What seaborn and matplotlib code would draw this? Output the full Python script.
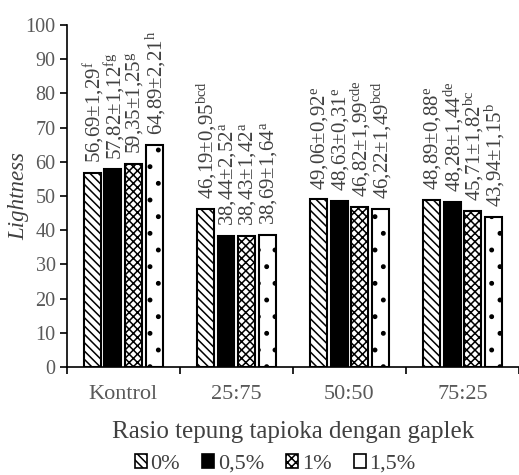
import matplotlib
matplotlib.use('Agg')
import matplotlib.pyplot as plt
import matplotlib.patches as mpatches
import seaborn as sns
import pandas as pd

# data
ratios = ['Kontrol', '25:75', '50:50', '75:25']
levels = ['0%', '0,5%', '1%', '1,5%']
mean_0 = [56.69, 46.19, 49.06, 48.89]
mean_05 = [57.82, 38.44, 48.63, 48.28]
mean_1 = [59.35, 38.43, 46.82, 45.71]
mean_15 = [64.89, 38.69, 46.22, 43.94]
sd_0 = [1.29, 0.95, 0.92, 0.88]
sd_05 = [1.12, 2.52, 0.31, 1.44]
sd_1 = [1.25, 1.42, 1.99, 1.82]
sd_15 = [2.21, 1.64, 1.49, 1.15]
sig_0 = ['f', 'bcd', 'e', 'e']
sig_05 = ['fg', 'a', 'e', 'de']
sig_1 = ['g', 'a', 'cde', 'bc']
sig_15 = ['h', 'a', 'bcd', 'b']
y_ticks = list(range(0, 101, 10))

means = [mean_0, mean_05, mean_1, mean_15]
sds = [sd_0, sd_05, sd_1, sd_15]
sigs = [sig_0, sig_05, sig_1, sig_15]

rows = []
for lv, m_list, s_list, g_list in zip(levels, means, sds, sigs):
    for r, m, s, g in zip(ratios, m_list, s_list, g_list):
        rows.append({'Rasio': r, 'Level': lv, 'Lightness': m, 'sd': s, 'sig': g})
df = pd.DataFrame(rows)

sns.set_style('white')
plt.rcParams['font.family'] = ['Liberation Serif', 'DejaVu Serif']
plt.rcParams['mathtext.fontset'] = 'custom'
plt.rcParams['mathtext.rm'] = 'Liberation Serif'
plt.rcParams['mathtext.it'] = 'Liberation Serif:italic'
plt.rcParams['hatch.linewidth'] = 1.1

text_col = '#404040'
fig = plt.figure(figsize=(5.19, 4.75), dpi=100)
ax = fig.add_axes([0.1285, 0.2274, 0.8715, 0.7199])

sns.barplot(data=df, x='Rasio', y='Lightness', hue='Level', order=ratios,
            hue_order=levels, palette=['white', 'black', 'white', 'white'],
            width=0.73, gap=0.18, edgecolor='black', linewidth=1.5,
            legend=False, ax=ax)

hatches = ['\\\\\\\\', '', 'xxxx', '.']
for cont, h, lv in zip(ax.containers, hatches, levels):
    sub = df[df['Level'] == lv].set_index('Rasio').loc[ratios]
    for bar, (_, row) in zip(cont, sub.iterrows()):
        bar.set_hatch(h)
        x = bar.get_x() + bar.get_width() / 2
        lbl = (f"{row['Lightness']:.2f}".replace('.', ',') + '±' +
               f"{row['sd']:.2f}".replace('.', ',') + '$^{\\rm ' + row['sig'] + '}$')
        ax.annotate(lbl, (x, bar.get_height()), xytext=(1, 7),
                    textcoords='offset points', rotation=90, ha='center',
                    va='bottom', fontsize=15, color=text_col)

ax.set_ylim(0, 100)
ax.set_xlim(-0.5, 3.5)
ax.set_yticks(y_ticks)
ax.tick_params(axis='y', direction='out', length=5, width=1.2, left=True,
               labelsize=14.5, labelcolor='#595959', color='black', pad=3)
ax.set_xticks(range(len(ratios)))
ax.set_xticks([-0.5, 0.5, 1.5, 2.5, 3.5], minor=True)
ax.tick_params(axis='x', which='major', length=0, labelsize=16,
               labelcolor='#595959', pad=13)
ax.tick_params(axis='x', which='minor', direction='out', length=5, width=1.2,
               bottom=True, color='black')
for side in ['top', 'right']:
    ax.spines[side].set_visible(False)
for side in ['left', 'bottom']:
    ax.spines[side].set_color('black')
    ax.spines[side].set_linewidth(1.2)

ax.set_xlabel('Rasio tepung tapioka dengan gaplek', fontsize=18,
              color=text_col, labelpad=12)
ax.set_ylabel('Lightness', fontsize=16.5, fontstyle='italic', color=text_col,
              labelpad=-3)

handles = [mpatches.Patch(facecolor=fc, edgecolor='black', hatch=h, linewidth=1.2)
           for fc, h in zip(['white', 'black', 'white', 'white'],
                            ['\\\\\\\\', '', 'xxxx', ''])]
fig.legend(handles, levels, loc='lower center', bbox_to_anchor=(0.53, -0.04),
           ncol=4, frameon=False, fontsize=16, handlelength=0.55,
           handleheight=0.55, handletextpad=0.15, columnspacing=1.0,
           labelcolor=text_col)

fig.savefig('out.png', dpi=100)
